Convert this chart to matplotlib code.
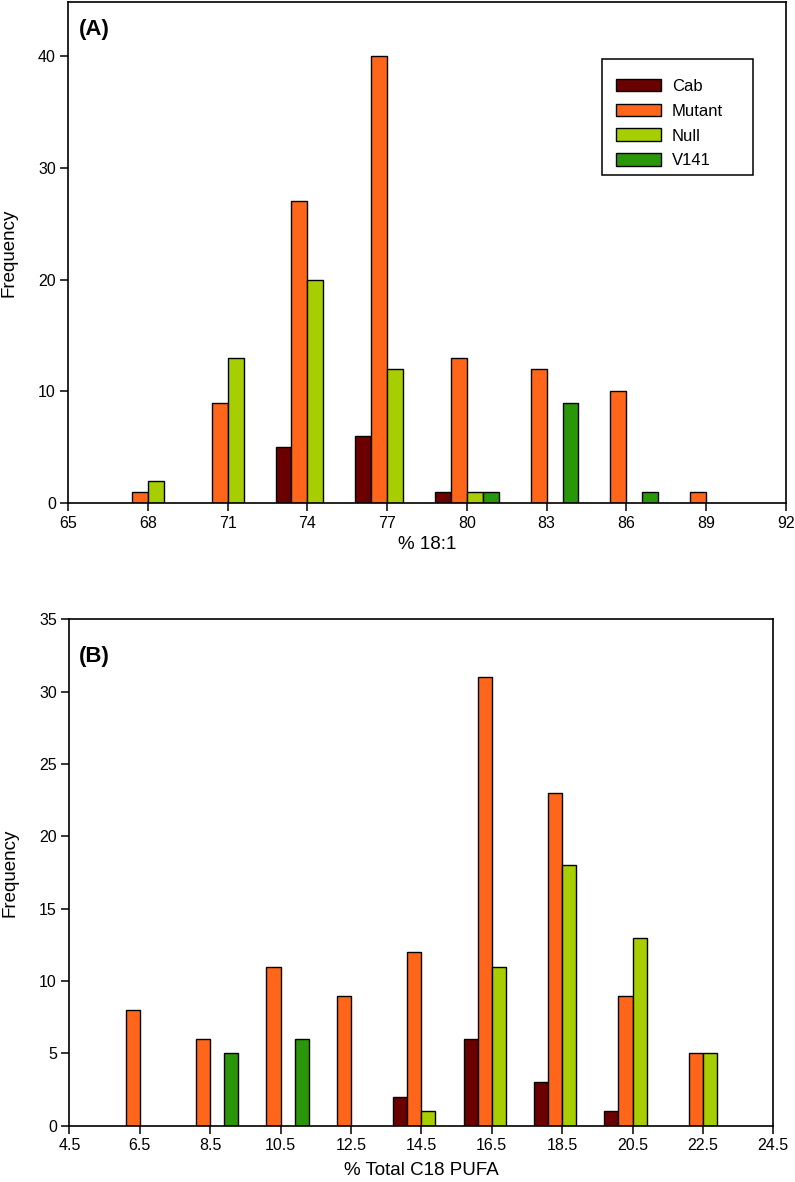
import numpy as np
import matplotlib
matplotlib.use("Agg")
import matplotlib.pyplot as plt
from matplotlib.patches import Rectangle

plt.rcParams['font.family'] = ['Liberation Sans', 'DejaVu Sans']

series = ["Cab", "Mutant", "Null", "V141"]
colors = ["#6b0000", "#ff661a", "#a6ce00", "#2a960a"]

# Panel A: % 18:1
bins_A = [68, 71, 74, 77, 80, 83, 86, 89]
cab_A = [0, 0, 5, 6, 1, 0, 0, 0]
mutant_A = [1, 9, 27, 40, 13, 12, 10, 1]
null_A = [2, 13, 20, 12, 1, 0, 0, 0]
v141_A = [0, 0, 0, 0, 1, 9, 1, 0]
xticks_A = [65, 68, 71, 74, 77, 80, 83, 86, 89, 92]
yticks_A = [0, 10, 20, 30, 40]

# Panel B: % Total C18 PUFA
bins_B = [6.5, 8.5, 10.5, 12.5, 14.5, 16.5, 18.5, 20.5, 22.5]
cab_B = [0, 0, 0, 0, 2, 6, 3, 1, 0]
mutant_B = [8, 6, 11, 9, 12, 31, 23, 9, 5]
null_B = [0, 0, 0, 0, 1, 11, 18, 13, 5]
v141_B = [0, 5, 6, 0, 0, 0, 0, 0, 0]
xticks_B = [4.5, 6.5, 8.5, 10.5, 12.5, 14.5, 16.5, 18.5, 20.5, 22.5, 24.5]
yticks_B = [0, 5, 10, 15, 20, 25, 30, 35]

fig = plt.figure(figsize=(7.95, 11.82), dpi=100)
axA = fig.add_axes([0.0859, 0.5742, 0.9024, 0.4241])
axB = fig.add_axes([0.0872, 0.0476, 0.8855, 0.4284])

FS = 11.5
LFS = 13.5


def draw(ax, bins, data, width):
    handles = []
    offs = [-1.5, -0.5, 0.5, 1.5]
    x = np.array(bins, dtype=float)
    for name, col, vals, o in zip(series, colors, data, offs):
        vals = np.array(vals)
        m = vals > 0
        h = ax.bar(x[m] + o * width, vals[m], width=width, color=col,
                   edgecolor="black", linewidth=1.0, label=name)
        handles.append(h)
    for s in ax.spines.values():
        s.set_linewidth(1.2)
    ax.tick_params(direction="out", length=5.5, width=1.1, labelsize=FS, pad=3.5)
    return handles


hA = draw(axA, bins_A, [cab_A, mutant_A, null_A, v141_A], 0.6)
axA.set_xlim(65, 92)
axA.set_ylim(0, 44.8)
axA.set_xticks(xticks_A)
axA.set_xticklabels([str(t) for t in xticks_A])
axA.set_yticks(yticks_A)
axA.set_xlabel("% 18:1", fontsize=LFS, labelpad=4)
axA.set_ylabel("Frequency", fontsize=LFS, labelpad=15)
axA.text(0.015, 0.946, "(A)", transform=axA.transAxes, fontsize=16,
         fontweight="bold", ha="left", va="center")

# legend frame drawn separately so the entries can sit where the reference has them
axA.add_patch(Rectangle((0.744, 0.655), 0.211, 0.231, transform=axA.transAxes,
                        facecolor="white", edgecolor="black", linewidth=1.1,
                        zorder=4))
leg = axA.legend(handles=hA, loc="upper left",
                 bbox_to_anchor=(0.7635, 0.847),
                 fontsize=FS + 0.5, frameon=False,
                 handlelength=2.7, handleheight=0.8,
                 labelspacing=0.58, borderpad=0.0, handletextpad=0.65,
                 borderaxespad=0)
leg.set_zorder(5)

hB = draw(axB, bins_B, [cab_B, mutant_B, null_B, v141_B], 0.4)
axB.set_xlim(4.5, 24.5)
axB.set_ylim(0, 35)
axB.set_xticks(xticks_B)
axB.set_xticklabels([str(t) for t in xticks_B])
axB.set_yticks(yticks_B)
axB.set_xlabel("% Total C18 PUFA", fontsize=LFS, labelpad=6)
axB.set_ylabel("Frequency", fontsize=LFS, labelpad=15)
axB.text(0.0138, 0.9275, "(B)", transform=axB.transAxes, fontsize=16,
         fontweight="bold", ha="left", va="center")

fig.savefig("out.png", dpi=100)
